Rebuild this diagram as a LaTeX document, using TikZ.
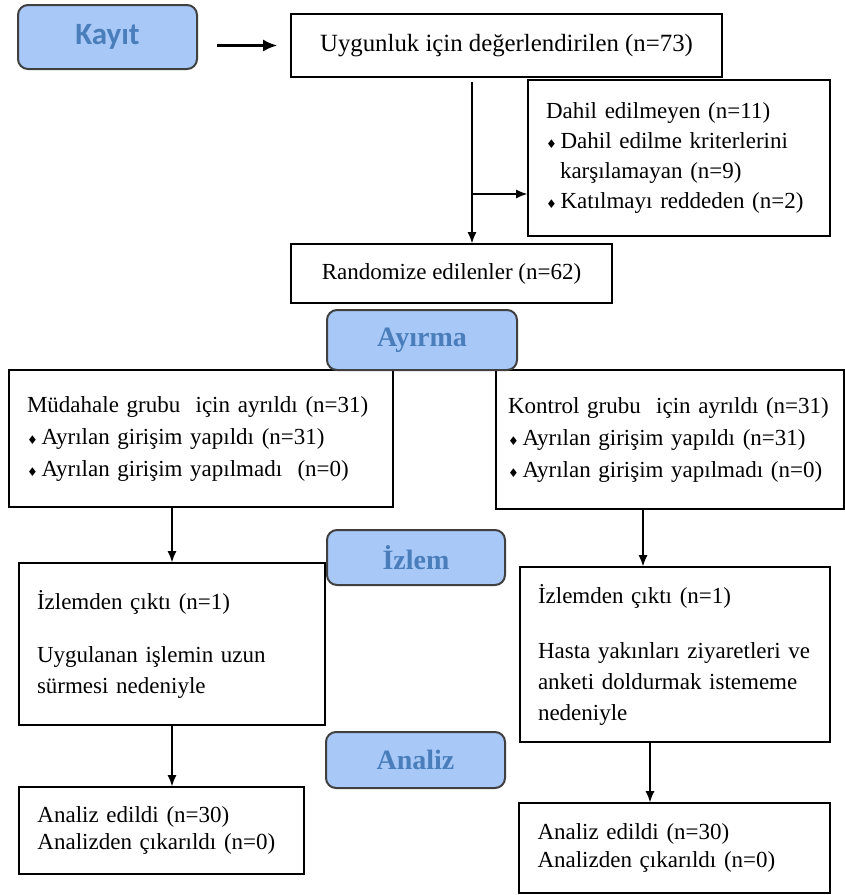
\documentclass[tikz,border=0pt]{standalone}
\usepackage{fontspec}
\setmainfont{Liberation Serif}
\newfontfamily\kayitfont{Carlito}
\newfontfamily\bulfont{DejaVu Sans}
\usetikzlibrary{arrows.meta}
\definecolor{stagefill}{RGB}{168,200,248}
\definecolor{stagetext}{RGB}{74,126,187}
\newcommand{\itembul}{{\bulfont\fontsize{6}{6}\selectfont ♦}\,}

\begin{document}
\begin{tikzpicture}[
      x=0.5pt, y=-0.5pt,
      box/.style={draw, line width=0.8pt, inner ysep=0pt, inner xsep=9pt,
                  font=\fontsize{11.5}{15.5}\selectfont, text=black},
      stage/.style={draw=black!75, line width=1pt, fill=stagefill,
                    rounded corners=5pt, text=stagetext,
                    font=\fontsize{14}{16}\selectfont\bfseries},
      flow/.style={-{Latex[length=5.5pt,width=4.5pt]}, line width=0.6pt}
    ]
      \useasboundingbox (0,0) rectangle (845,895);
      \node[box, minimum width=215.5pt, minimum height=31.5pt,
            font=\fontsize{12.4}{15.5}\selectfont] (uyg) at (506.5,45.5)
        {Uygunluk için değerlendirilen (n=73)};
      \node[box, minimum width=151pt, minimum height=78pt, text width=133pt,
            align=left, font=\fontsize{11.5}{15}\selectfont] (dahil) at (679,158)
        {Dahil edilmeyen (n=11)\\
         \itembul Dahil edilme kriterlerini\\
         \hspace*{7pt}karşılamayan (n=9)\\
         \itembul Katılmayı reddeden (n=2)};
      \node[box, minimum width=160.5pt, minimum height=29.5pt] (rand) at (451.5,273.5)
        {Randomize edilenler (n=62)};
      \node[box, minimum width=192pt, minimum height=68.5pt, text width=174pt,
            align=left, font=\fontsize{11.5}{16}\selectfont] (lgrp) at (201,438.5)
        {Müdahale grubu \ için ayrıldı (n=31)\\
         \itembul Ayrılan girişim yapıldı (n=31)\\
         \itembul Ayrılan girişim yapılmadı \ (n=0)\\[3pt]};
      \node[box, minimum width=174pt, minimum height=69.5pt, text width=162pt,
            inner xsep=6pt, align=left, font=\fontsize{11.5}{16}\selectfont] (rgrp) at (670,439.5)
        {Kontrol grubu \ için ayrıldı (n=31)\\
         \itembul Ayrılan girişim yapıldı (n=31)\\
         \itembul Ayrılan girişim yapılmadı (n=0)\\[3pt]};
      \node[box, minimum width=153pt, minimum height=81pt, text width=135pt,
            align=left] (lizl) at (172,644)
        {İzlemden çıktı (n=1)\\[11pt]
         Uygulanan işlemin uzun\\
         sürmesi nedeniyle\\[3pt]};
      \node[box, minimum width=155pt, minimum height=87.5pt, text width=137pt,
            align=left] (rizl) at (675,654.5)
        {İzlemden çıktı (n=1)\\[12pt]
         Hasta yakınları ziyaretleri ve\\
         anketi doldurmak istememe\\
         nedeniyle};
      \node[box, minimum width=142.5pt, minimum height=43.5pt, text width=124pt,
            align=left, font=\fontsize{11.5}{13.5}\selectfont] (lana) at (161.5,830.5)
        {Analiz edildi (n=30)\\
         Analizden çıkarıldı (n=0)};
      \node[box, minimum width=155.5pt, minimum height=45pt, text width=137pt,
            align=left, font=\fontsize{11.5}{14}\selectfont] (rana) at (674.5,848)
        {Analiz edildi (n=30)\\
         Analizden çıkarıldı (n=0)};
      \node[stage, font=\kayitfont\fontsize{15.5}{17}\selectfont\bfseries,
            minimum width=89.5pt, minimum height=32pt] (kayit) at (107.5,37) {Kayıt};
      \node[stage, minimum width=95pt, minimum height=30pt] (ayirma) at (422,340) {Ayırma};
      \node[stage, minimum width=89pt, minimum height=27.5pt] (izlem) at (416,557.5) {İzlem};
      \node[stage, minimum width=89.5pt, minimum height=28pt] (analiz) at (415.5,760) {Analiz};
      \coordinate (split) at (472,194);
      \coordinate (rdrop) at (643,0);
      \coordinate (rdropb) at (650,0);
      \draw[flow, line width=1.2pt, -{Latex[length=7pt,width=6pt]},
            shorten <=9.5pt, shorten >=6.5pt] (kayit.east |- uyg.west) -- (uyg.west);
      \draw[flow, shorten <=2pt] (uyg.south -| split) -- (rand.north -| split);
      \draw[flow] (split) -- (dahil.west |- split);
      \draw[flow] (lgrp.south -| lizl.north) -- (lizl.north);
      \draw[flow] (rgrp.south -| rdrop) -- (rizl.north -| rdrop);
      \draw[flow] (lizl.south) -- (lana.north -| lizl.south);
      \draw[flow] (rizl.south -| rdropb) -- (rana.north -| rdropb);
    \end{tikzpicture}
\end{document}
